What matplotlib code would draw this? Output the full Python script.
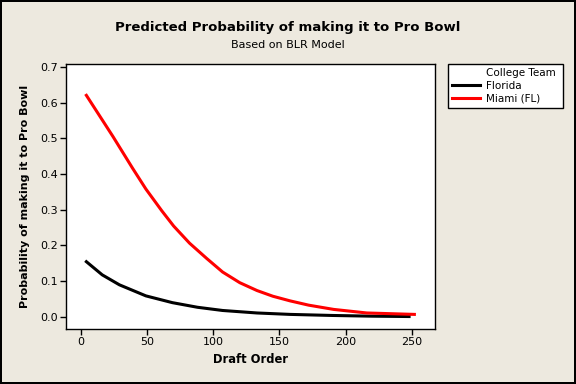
import matplotlib
matplotlib.use('Agg')
import matplotlib.pyplot as plt
from matplotlib.lines import Line2D

# Values
miami_x = [4, 24, 39, 49, 61, 70, 82, 95, 107, 120, 133, 145, 158, 172, 191, 216, 252]
miami_p = [0.621, 0.506, 0.416, 0.358, 0.297, 0.254, 0.206, 0.163, 0.125, 0.095,
           0.073, 0.057, 0.044, 0.032, 0.020, 0.010, 0.006]
florida_x = [4, 16, 29, 49, 69, 88, 107, 133, 158, 190, 220, 248]
florida_p = [0.154, 0.117, 0.089, 0.058, 0.039, 0.026, 0.017, 0.010, 0.006, 0.003, 0.001, 0.0]

x_ticks = [0, 50, 100, 150, 200, 250]
y_ticks = [0.0, 0.1, 0.2, 0.3, 0.4, 0.5, 0.6, 0.7]

bg = '#EDE9DF'
plt.rcParams['font.family'] = ['DejaVu Sans']

fig = plt.figure(figsize=(5.76, 3.84), dpi=100, facecolor=bg,
                 edgecolor='black', linewidth=1.5)
ax = fig.add_axes([66 / 576, 1 - 329 / 384, (435 - 66) / 576, (329 - 64) / 384])
ax.set_facecolor('white')

ax.plot(florida_x, florida_p, color='black', lw=2.2, label='Florida')
ax.plot(miami_x, miami_p, color='#FF0000', lw=2.2, label='Miami (FL)')

ax.set_xlim(-11.4, 267.6)
ax.set_ylim(-0.035, 0.709)
ax.set_xticks(x_ticks)
ax.set_yticks(y_ticks)
ax.set_yticklabels([f'{v:.1f}' for v in y_ticks])
ax.tick_params(direction='out', length=4, width=1, labelsize=8, pad=2,
               top=False, right=False)
for s in ax.spines.values():
    s.set_linewidth(1.0)
    s.set_color('black')

ax.set_xlabel('Draft Order', fontsize=8.3, fontweight='bold', labelpad=4)
ax.set_ylabel('Probability of making it to Pro Bowl', fontsize=8,
              fontweight='bold', labelpad=7)

fig.text(0.5, 1 - 27.5 / 384, 'Predicted Probability of making it to Pro Bowl',
         ha='center', va='center', fontsize=9.5, fontweight='bold')
fig.text(0.5, 1 - 44.5 / 384, 'Based on BLR Model', ha='center', va='center',
         fontsize=8)

# legend: blank header row holds the title
header = Line2D([], [], color='none')
handles = [header] + ax.get_lines()
labels = ['College Team', 'Florida', 'Miami (FL)']
leg = ax.legend(handles, labels, loc='upper left',
                bbox_to_anchor=(447.7 / 576, 1 - 109 / 384, 115 / 576, 45 / 384),
                bbox_transform=fig.transFigure, mode='expand', borderaxespad=0,
                fontsize=7.5, handlelength=2.7, handletextpad=0.6,
                borderpad=0.4, labelspacing=0.25, fancybox=False, framealpha=1)
leg.get_frame().set_edgecolor('black')
leg.get_frame().set_linewidth(1.0)

fig.savefig('out.png', dpi=100, facecolor=fig.get_facecolor(),
            edgecolor=fig.get_edgecolor())
